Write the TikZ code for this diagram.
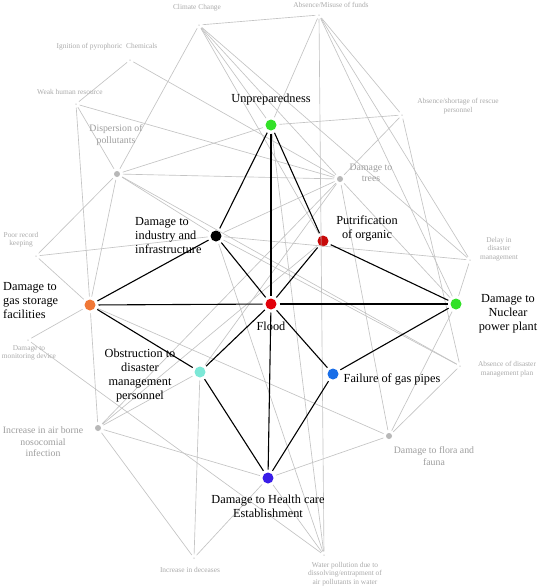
\documentclass[tikz,border=0pt]{standalone}
\usepackage{fontspec}
\setmainfont{Liberation Serif}
\begin{document}
\begin{tikzpicture}[x=1pt,y=-1pt,
  cnode/.style={circle,inner sep=0pt,minimum size=11pt,outer sep=3pt},
  gdot/.style={circle,inner sep=0pt,minimum size=6pt,fill=black!28,outer sep=3pt},
  tdot/.style={circle,inner sep=0pt,minimum size=1.5pt,fill=black!20,outer sep=3pt},
  blab/.style={font=\fontsize{12.3}{14}\selectfont,text=black,align=center,inner sep=0pt},
  mlab/.style={font=\fontsize{9.8}{11.5}\selectfont,text=black!38,align=center,inner sep=0pt},
  slab/.style={font=\fontsize{7.4}{8.4}\selectfont,text=black!33,align=center,inner sep=0pt},
  gedge/.style={draw=black!23,line width=0.65pt},
  bedge/.style={draw=black,line width=1.1pt}]
\useasboundingbox (0,0) rectangle (544,587);
\fill[white] (0,0) rectangle (544,587);
% nodes
\node[tdot] (cc) at (199,25) {};
\node[tdot] (amf) at (319,15) {};
\node[tdot] (ign) at (130,60) {};
\node[tdot] (whr) at (76,104) {};
\node[gdot] (dis) at (117,174) {};
\node[cnode,fill={rgb,255:red,50;green,225;blue,40}] (unp) at (271,125) {};
\node[tdot] (res) at (402,115) {};
\node[gdot] (tre) at (340,179) {};
\node[tdot] (prk) at (36,256) {};
\node[cnode,fill=black] (ind) at (216,236) {};
\node[cnode,fill={rgb,255:red,200;green,10;blue,10}] (put) at (323,241) {};
\node[tdot] (del) at (470,260) {};
\node[cnode,fill={rgb,255:red,240;green,120;blue,55}] (gas) at (90,305) {};
\node[cnode,fill={rgb,255:red,225;green,0;blue,10}] (fld) at (271,304) {};
\node[cnode,fill={rgb,255:red,50;green,225;blue,40}] (nuc) at (456,304) {};
\node[tdot] (mon) at (28,340) {};
\node[cnode,fill={rgb,255:red,125;green,232;blue,215}] (obs) at (200,372) {};
\node[cnode,fill={rgb,255:red,25;green,110;blue,232}] (fgp) at (333,374) {};
\node[tdot] (adp) at (460,366) {};
\node[gdot] (air) at (98,428) {};
\node[gdot] (flo) at (389,436) {};
\node[cnode,fill={rgb,255:red,58;green,30;blue,232}] (hce) at (268,478) {};
\node[tdot] (inc) at (194,558) {};
\node[tdot] (wat) at (324,555) {};
% gray edges
\foreach \a/\b in {cc/amf,cc/dis,cc/unp,cc/put,cc/del,cc/tre,
  amf/unp,amf/wat,amf/res,amf/del,amf/nuc,
  ign/whr,ign/tre,
  whr/dis,whr/tre,whr/gas,
  dis/unp,dis/tre,dis/prk,dis/gas,dis/ind,dis/adp,
  unp/res,unp/wat,
  res/tre,res/adp,
  tre/ind,tre/obs,tre/nuc,tre/flo,tre/air,
  prk/ind,prk/gas,
  mon/gas,mon/wat,
  gas/air,gas/flo,
  air/obs,air/inc,air/hce,air/put,
  obs/inc,
  hce/inc,hce/wat,hce/flo,
  ind/wat,ind/adp,ind/del,
  flo/nuc,flo/adp,
  del/nuc}
  \path[gedge] (\a) -- (\b);
% black edges
\foreach \a/\b in {unp/ind,unp/put,unp/fld,fld/hce,ind/fld,ind/gas,
  put/fld,put/nuc,gas/fld,fld/nuc,gas/obs,fld/obs,fld/fgp,nuc/fgp,
  obs/hce,fgp/hce}
  \path[bedge] (\a) -- (\b);
% labels
\node[slab] (lcc) at (197,8) {Climate Change};
\node[slab] (lamf) at (331,5) {Absence/Misuse of funds};
\node[slab] (lign) at (107,47) {Ignition of pyrophoric\ \ Chemicals};
\node[slab] (lwhr) at (70,92) {Weak human resource};
\node[mlab] (ldis) at (116,135) {Dispersion of\\pollutants};
\node[blab] (lunp) at (271,100) {Unpreparedness};
\node[slab] (lres) at (458,106) {Absence/shortage of rescue\\personnel};
\node[mlab] (ltre) at (371,173) {Damage to\\trees};
\node[slab] (lprk) at (21,240) {Poor record\\keeping};
\node[blab,align=left,anchor=west] (lind) at (135,236) {Damage to\\industry and\\infrastructure};
\node[blab] (lput) at (367,228) {Putrification\\of organic};
\node[slab] (ldel) at (499,249) {Delay in\\disaster\\management};
\node[blab,align=left,anchor=west] (lgas) at (3,301) {Damage to\\gas storage\\facilities};
\node[blab] (lfld) at (271,326) {Flood};
\node[blab] (lnuc) at (508,314) {Damage to\\Nuclear\\power plant};
\node[slab] (lmon) at (29,353) {Damage to\\monitoring device};
\node[blab] (lobs) at (140,376) {Obstruction to\\disaster\\management\\personnel};
\node[blab] (lfgp) at (392,379) {Failure of gas pipes};
\node[slab] (ladp) at (507,369) {Absence of disaster\\management plan};
\node[mlab] (lair) at (43,442) {Increase in air borne\\nosocomial\\infection};
\node[mlab] (lflo) at (434,456) {Damage to flora and\\fauna};
\node[blab] (lhce) at (268,506) {Damage to Health care\\Establishment};
\node[slab] (linc) at (190,570) {Increase in deceases};
\node[slab] (lwat) at (345,574) {Water pollution due to\\dissolving/entrapment of\\air pollutants in water};
\end{tikzpicture}
\end{document}
